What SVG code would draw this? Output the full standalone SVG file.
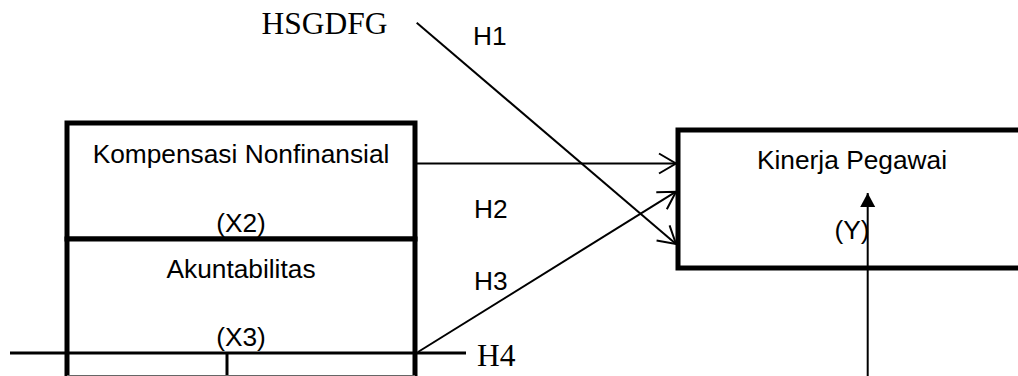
<svg xmlns="http://www.w3.org/2000/svg" width="1018" height="376" viewBox="0 0 1018 376">
<style>
.box{fill:#fff;stroke:#000;stroke-width:5}
.lbl{font-family:"Liberation Sans",Arial,sans-serif;font-size:26.3px;fill:#000;text-anchor:middle}
.hl{font-family:"Liberation Sans",Arial,sans-serif;font-size:26.3px;fill:#000}
.ser{font-family:"Liberation Serif","Times New Roman",serif;font-size:31.5px;fill:#000}
.con{fill:none;stroke:#000;stroke-width:2}
.thick{fill:none;stroke:#000;stroke-width:3}
</style>
<defs>
<marker id="open" markerUnits="userSpaceOnUse" markerWidth="24" markerHeight="24" viewBox="-20 -12 22 24" refX="0" refY="0" orient="auto">
<path d="M-17,-10 L0,0 L-17,10" fill="none" stroke="#000" stroke-width="2"/>
</marker>
<marker id="solid" markerUnits="userSpaceOnUse" markerWidth="18" markerHeight="18" viewBox="-15 -9 16 18" refX="0" refY="0" orient="auto">
<path d="M-14,-7.5 L0,0 L-14,7.5 Z" fill="#000"/>
</marker>
</defs>
<g id="node-x2">
<rect class="box" x="67" y="123" width="348" height="116"/>
<text class="lbl" x="241" y="163">Kompensasi Nonfinansial</text>
<text class="lbl" x="241" y="232">(X2)</text>
</g>
<g id="node-x3">
<rect class="box" x="67" y="239" width="348" height="200"/>
<text class="lbl" x="241" y="278">Akuntabilitas</text>
<text class="lbl" x="241" y="346">(X3)</text>
</g>
<g id="node-y">
<rect class="box" x="678" y="130" width="400" height="138"/>
<text class="lbl" x="852" y="169">Kinerja Pegawai</text>
<text class="lbl" x="852" y="239">(Y)</text>
</g>
<g id="bottom-shapes">
<line class="thick" x1="10" y1="353" x2="466" y2="353"/>
<line class="thick" x1="227" y1="353" x2="227" y2="376"/>
<line x1="67" y1="375.5" x2="415" y2="375.5" stroke="#666" stroke-width="1"/>
</g>
<g id="connectors">
<line class="con" x1="417" y1="163.5" x2="676" y2="163.5" marker-end="url(#open)"/>
<line class="con" x1="416.7" y1="22.7" x2="676" y2="244" marker-end="url(#open)"/>
<line class="con" x1="418" y1="352" x2="676" y2="191.7" marker-end="url(#open)"/>
<line class="con" x1="867.7" y1="376" x2="867.7" y2="193" marker-end="url(#solid)"/>
</g>
<g id="labels">
<text class="ser" x="261.5" y="34">HSGDFG</text>
<text class="hl" x="473" y="45">H1</text>
<text class="hl" x="474" y="218">H2</text>
<text class="hl" x="474" y="290">H3</text>
<text class="ser" x="477" y="366">H4</text>
</g>
</svg>
